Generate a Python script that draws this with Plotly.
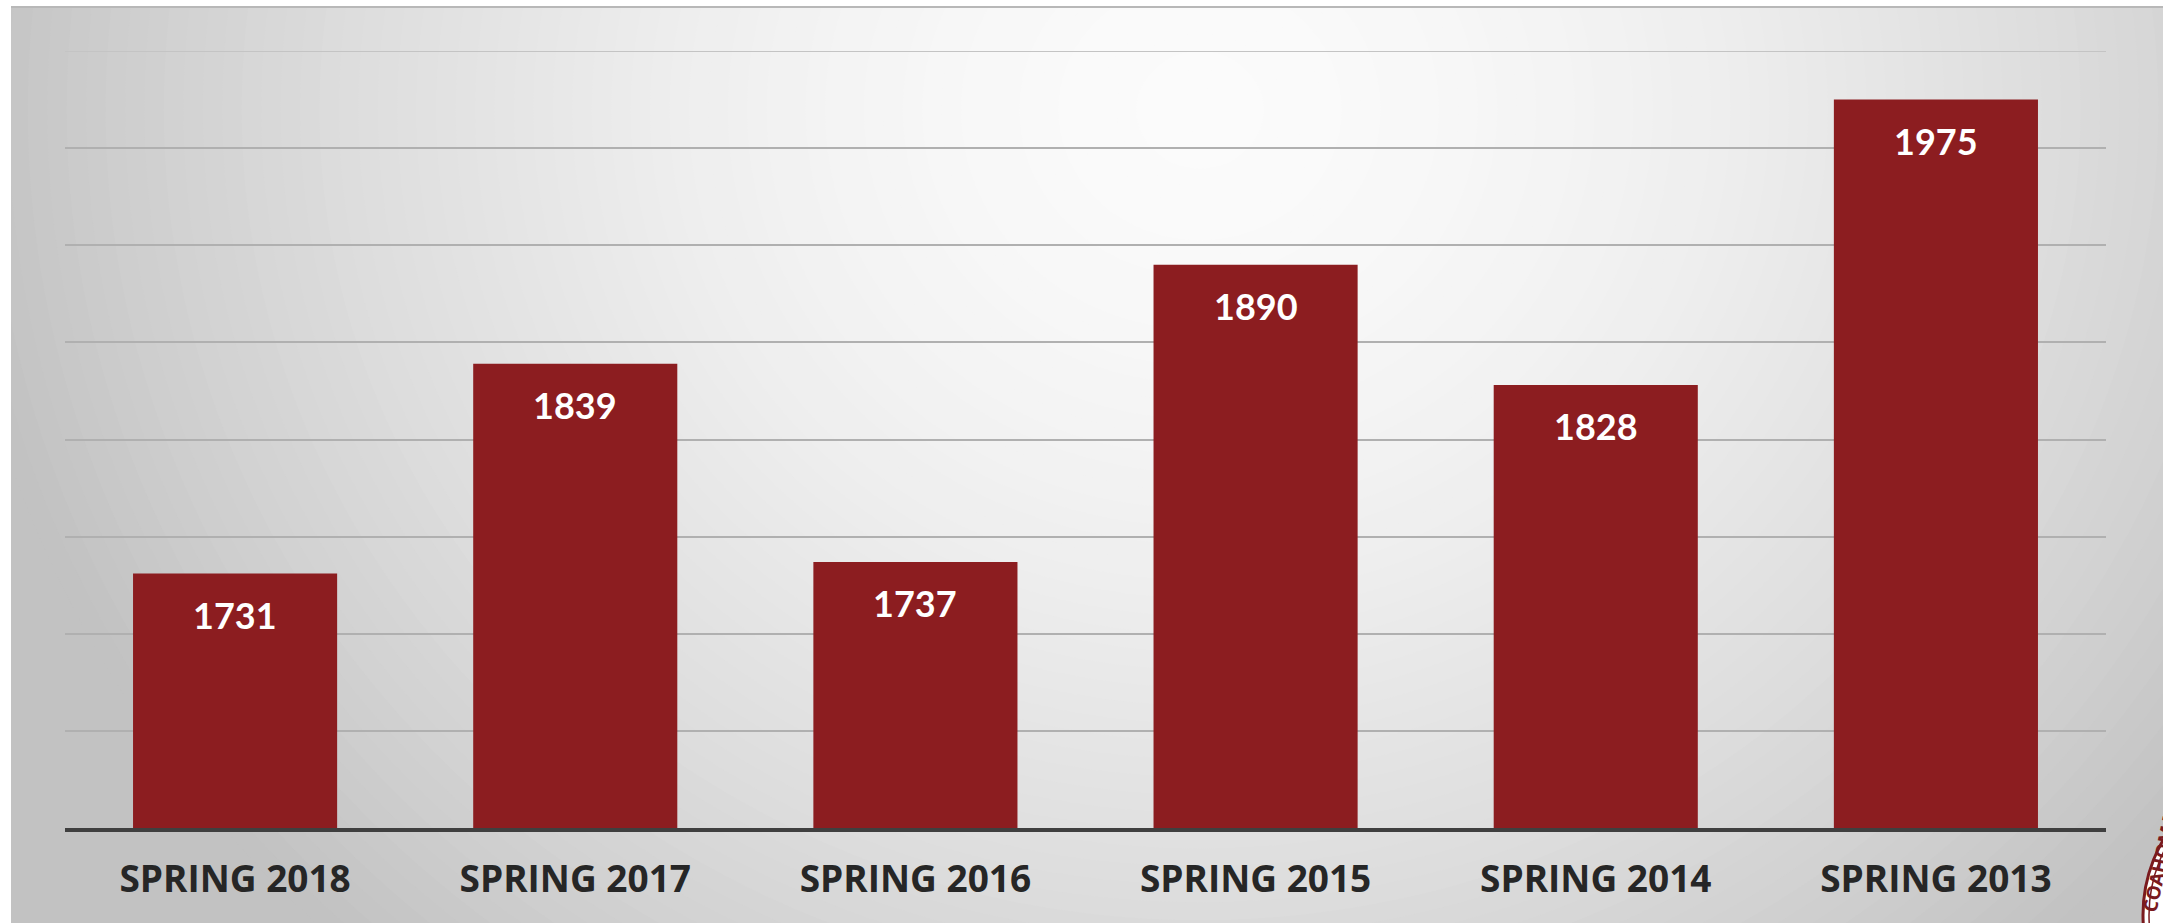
import numpy as np
import plotly.graph_objects as go

# Enrollment by spring term
categories = ["SPRING 2018", "SPRING 2017", "SPRING 2016", "SPRING 2015", "SPRING 2014", "SPRING 2013"]
enrollment = [1731, 1839, 1737, 1890, 1828, 1975]

# Value axis (no tick labels, gridlines only)
y_min, y_max, y_step = 1600, 2000, 50

W, H = 2163, 923
ML, MR, MT, MB = 65, 57, 51, 95
PW = W - ML - MR
PH = H - MT - MB

BAR_RED = "#8C1D20"
SEAL_RED = "#7A1A1E"


def px_x(px):
    """Page pixel column -> paper x."""
    return (px - ML) / PW


def px_y(py):
    """Page pixel row (from top) -> paper y."""
    return (H - MB - py) / PH


def grey(level):
    v = int(round(level))
    return f"rgb({v},{v},{v})"


# Soft radial backdrop: light centre near the top, grey towards the edges
shapes = []
edge_level, centre_level = 194, 251
cx, cy, rx, ry = 1200, 110, 1250, 1150
shapes.append(dict(type="rect", xref="paper", yref="paper", layer="below",
                   x0=px_x(11), x1=px_x(W), y0=px_y(H), y1=px_y(6),
                   fillcolor=grey(edge_level), line=dict(width=0)))
for r in np.linspace(1.0, 0.02, 64):
    lvl = centre_level - (centre_level - edge_level) * r ** 1.7
    shapes.append(dict(type="circle", xref="paper", yref="paper", layer="below",
                       x0=px_x(cx - r * rx), x1=px_x(cx + r * rx),
                       y0=px_y(cy + r * ry), y1=px_y(cy - r * ry),
                       fillcolor=grey(lvl), line=dict(width=0)))
# white page margins at top and left
shapes.append(dict(type="rect", xref="paper", yref="paper", layer="below",
                   x0=px_x(-5), x1=px_x(W + 5), y0=px_y(6), y1=px_y(-5),
                   fillcolor="white", line=dict(width=0)))
shapes.append(dict(type="rect", xref="paper", yref="paper", layer="below",
                   x0=px_x(-5), x1=px_x(11), y0=px_y(H + 5), y1=px_y(-5),
                   fillcolor="white", line=dict(width=0)))
shapes.append(dict(type="line", xref="paper", yref="paper", layer="below",
                   x0=px_x(11), x1=px_x(W), y0=px_y(7), y1=px_y(7),
                   line=dict(color="#b8b8b8", width=2)))

# Top gridline at the upper end of the value range
shapes.append(dict(type="line", xref="paper", yref="y", layer="below",
                   x0=0, x1=1, y0=y_max, y1=y_max,
                   line=dict(color="#c4c4c4", width=2)))

# Seal in the lower-right corner, mostly off the page
seal_cx, seal_cy, seal_r = 2293, 915, 150
shapes.append(dict(type="circle", xref="paper", yref="paper", layer="above",
                   x0=px_x(seal_cx - seal_r), x1=px_x(seal_cx + seal_r),
                   y0=px_y(seal_cy + seal_r), y1=px_y(seal_cy - seal_r),
                   fillcolor="white", line=dict(color=SEAL_RED, width=3)))
shapes.append(dict(type="circle", xref="paper", yref="paper", layer="above",
                   x0=px_x(seal_cx - seal_r + 6), x1=px_x(seal_cx + seal_r - 6),
                   y0=px_y(seal_cy + seal_r - 6), y1=px_y(seal_cy - seal_r + 6),
                   fillcolor="rgba(0,0,0,0)", line=dict(color=SEAL_RED, width=1.5)))

fig = go.Figure()
fig.add_trace(go.Bar(
    x=categories,
    y=enrollment,
    marker=dict(color=BAR_RED, line=dict(width=0)),
    hoverinfo="skip",
))

annotations = [
    dict(x=c, y=v, xref="x", yref="y", text=str(v), showarrow=False,
         yanchor="middle", yshift=-41,
         font=dict(family="Lato", size=36, color="white", weight=700))
    for c, v in zip(categories, enrollment)
]
annotations.append(dict(x=px_x(2160), y=px_y(862), xref="paper", yref="paper",
                        xanchor="center", yanchor="middle",
                        text="COAHOMA", showarrow=False, textangle=-78,
                        font=dict(family="Open Sans", size=19, color=SEAL_RED, weight=700)))

fig.update_layout(
    width=W, height=H, autosize=False,
    margin=dict(l=ML, r=MR, t=MT, b=MB, pad=0),
    paper_bgcolor="white",
    plot_bgcolor="rgba(0,0,0,0)",
    bargap=0.40,
    showlegend=False,
    shapes=shapes,
    annotations=annotations,
    xaxis=dict(
        showline=True, linecolor="#3f3f3f", linewidth=4,
        ticks="", showgrid=False, zeroline=False, automargin=False,
        ticklabelstandoff=16,
        tickfont=dict(family="Open Sans", size=37, color="#262626", weight=700),
    ),
    yaxis=dict(
        range=[y_min, y_max], dtick=y_step, tick0=y_min,
        showticklabels=False, ticks="", automargin=False,
        showgrid=True, gridcolor="#b0b0b0", gridwidth=2,
        zeroline=False, showline=False,
    ),
)

fig.write_html("out.html")
